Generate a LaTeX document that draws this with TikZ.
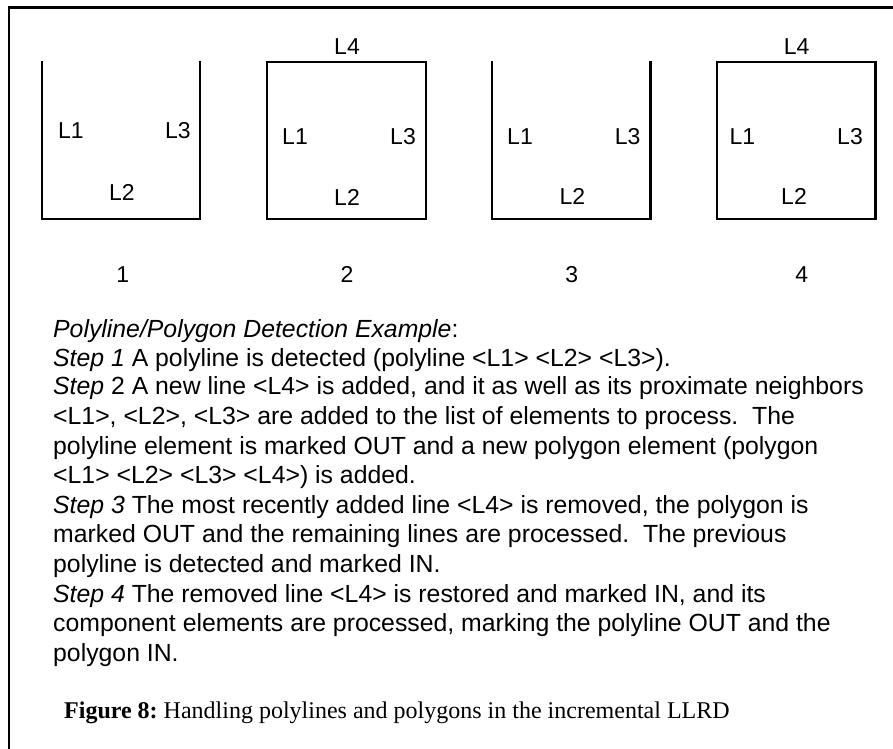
\documentclass[tikz,border=0pt]{standalone}
\usepackage{fontspec}
\setmainfont{Liberation Sans}
\newfontfamily\capserif{Liberation Serif}
\begin{document}
\begin{tikzpicture}[x=1pt,y=-1pt,
  stroke/.style={line width=2.5pt,line join=miter,line cap=rect},
  lbl/.style={inner sep=0pt,anchor=base,font=\fontsize{23}{27}\selectfont},
  body/.style={inner sep=0pt,anchor=base west,font=\fontsize{24.8}{29.6}\selectfont},
  capt/.style={inner sep=0pt,anchor=base west,font=\fontsize{24}{28}\selectfont\capserif}]
\useasboundingbox (0,0) rectangle (893,748);

% outer frame (only top and left edges fall inside the page)
\draw[stroke] (9,760) -- (9,7.3) -- (900,7.3);

% panel 1: open polyline
\draw[stroke] (42,62) -- (42,219) -- (200,219) -- (200,62);
\node[lbl] (p1a) at (71,138.2) {L1};
\node[lbl] (p1c) at (178,138.2) {L3};
\node[lbl] (p1b) at (122,200.2) {L2};
\node[lbl] (n1) at (122.7,282.2) {1};

% panel 2: closed polygon
\draw[stroke] (267,62) rectangle (426,219);
\node[lbl] (p2d) at (347,54.9) {L4};
\node[lbl] (p2a) at (295,144.2) {L1};
\node[lbl] (p2c) at (403,144.2) {L3};
\node[lbl] (p2b) at (347,205.2) {L2};
\node[lbl] (n2) at (347,282.2) {2};

% panel 3: open polyline again
\draw[stroke] (492,62) -- (492,219) -- (650.7,219) -- (650.7,62);
\node[lbl] (p3a) at (520,144.2) {L1};
\node[lbl] (p3c) at (627.7,144.2) {L3};
\node[lbl] (p3b) at (572.3,204.2) {L2};
\node[lbl] (n3) at (571.7,282.2) {3};

% panel 4: restored polygon
\draw[stroke] (717,62) rectangle (875.7,219);
\node[lbl] (p4d) at (796.7,54.2) {L4};
\node[lbl] (p4a) at (742.3,144.2) {L1};
\node[lbl] (p4c) at (850,144.2) {L3};
\node[lbl] (p4b) at (794,204.2) {L2};
\node[lbl] (n4) at (801.7,282.2) {4};

% explanation text
\node[body] (t1) at (53,337.7) {\itshape Polyline/Polygon Detection Example\upshape:};
\node[body] (t2) at (53,366.3) {\itshape Step 1\upshape\ A polyline is detected (polyline <L1> <L2> <L3>).};
\node[body] (t3) at (53,394.9) {\itshape Step\upshape\ 2 A new line <L4> is added, and it as well as its proximate neighbors};
\node[body] (t4) at (53,424.5) {<L1>, <L2>, <L3> are added to the list of elements to process.\ \ The};
\node[body] (t5) at (53,454.1) {polyline element is marked OUT and a new polygon element (polygon};
\node[body] (t6) at (53,483.7) {<L1> <L2> <L3> <L4>) is added.};
\node[body] (t7) at (53,513.3) {\itshape Step 3\upshape\ The most recently added line <L4> is removed, the polygon is};
\node[body] (t8) at (53,542.9) {marked OUT and the remaining lines are processed.\ \ The previous};
\node[body] (t9) at (53,572.5) {polyline is detected and marked IN.};
\node[body] (t10) at (53,602.1) {\itshape Step 4\upshape\ The removed line <L4> is restored and marked IN, and its};
\node[body] (t11) at (53,631.7) {component elements are processed, marking the polyline OUT and the};
\node[body] (t12) at (53,661.3) {polygon IN.};

% caption
\node[capt] (cap) at (64,718) {\bfseries Figure 8:\mdseries\ Handling polylines and polygons in the incremental LLRD};
\end{tikzpicture}
\end{document}
